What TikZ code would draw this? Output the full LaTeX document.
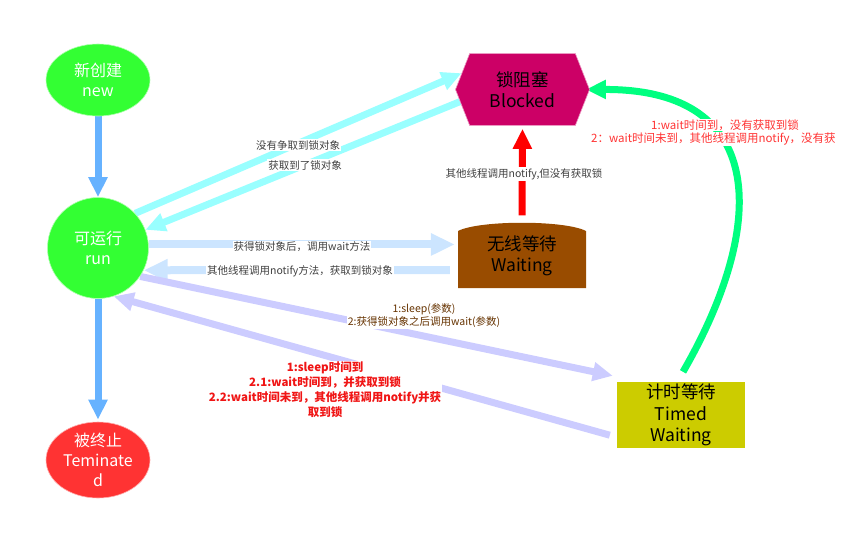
\documentclass[tikz,border=0pt]{standalone}
\usepackage{fontspec}
\setmainfont{Noto Sans CJK SC}
\usetikzlibrary{arrows.meta,shapes.geometric,shapes.symbols,calc}

\definecolor{liveGreen}{HTML}{33FF33}
\definecolor{deadRed}{HTML}{FF3333}
\definecolor{blockPink}{HTML}{CC0066}
\definecolor{waitBrown}{HTML}{994C00}
\definecolor{timedOlive}{HTML}{CCCC00}
\definecolor{flowBlue}{HTML}{66B2FF}
\definecolor{lockCyan}{HTML}{99FFFF}
\definecolor{waitBlue}{HTML}{CCE5FF}
\definecolor{timedLav}{HTML}{CCCCFF}
\definecolor{notifyRed}{HTML}{FF0000}
\definecolor{wakeGreen}{HTML}{00FF80}
\definecolor{noteGray}{HTML}{404040}
\definecolor{noteBrown}{HTML}{663300}
\definecolor{noteRed}{HTML}{FF3333}
\definecolor{boldRed}{HTML}{F01515}

\pgfdeclarelayer{background}
\pgfsetlayers{background,main}

\tikzset{
  stateround/.style={ellipse, inner sep=0pt, align=center, text=white,
    draw=white!60!#1, line width=0.6pt, fill=#1,
    font=\fontsize{16}{20}\selectfont},
  stateblock/.style={inner sep=0pt, align=center, text=black,
    font=\fontsize{17.5}{21.5}\selectfont},
  fatarrow/.style={line width=7pt, draw=#1,
    -{Triangle[width=18pt,length=20pt,fill=#1]}},
  widearrow/.style={line width=8pt, draw=#1,
    -{Triangle[width=21pt,length=24pt,fill=#1]}},
  grayNote/.style={font=\fontsize{10.5}{12}\selectfont, text=noteGray,
    fill=white, inner sep=1pt},
  brownNote/.style={font=\fontsize{10.5}{13.5}\selectfont, text=noteBrown,
    fill=white, inner sep=1pt, align=center},
  redNote/.style={font=\fontsize{11.5}{14}\selectfont, text=noteRed,
    fill=white, inner sep=1pt},
  boldNote/.style={font=\fontsize{11.5}{15}\selectfont\bfseries, text=boldRed,
    fill=white, inner sep=1pt, align=center},
}

\begin{document}
\begin{tikzpicture}[x=1pt,y=-1pt]
\useasboundingbox (0,0) rectangle (849,536);

% ---- states ----
\node[stateround=liveGreen, minimum width=104pt, minimum height=72pt] (new) at (98,80) {新创建\\new};
\node[stateround=liveGreen, minimum width=101pt, minimum height=101pt] (run) at (98,248) {可运行\\run};
\node[stateround=deadRed, minimum width=104pt, minimum height=76pt] (term) at (98,460) {被终止\\Teminate\\d};

\node[signal, signal to=west and east, signal pointer angle=137,
      fill=blockPink, draw=white!60!blockPink, line width=0.6pt,
      minimum width=134pt, minimum height=72pt, stateblock] (blocked) at (522.5,89.5) {锁阻塞\\Blocked};

\fill[waitBrown] (458,231) -- (458,288) -- (586,288) -- (586,231)
  .. controls (565,220) and (479,220) .. (458,231) -- cycle;
\node[stateblock, minimum width=128pt, minimum height=65pt] (waiting) at (522,256) {无线等待\\Waiting};

\node[stateblock, rectangle, fill=timedOlive, minimum width=128pt, minimum height=66pt] (timed) at (681,415) {计时等待\\Timed\\Waiting};

% ---- transitions ----
\begin{pgfonlayer}{background}
  \draw[fatarrow=flowBlue] (new.south) -- (run.north);
  \draw[fatarrow=flowBlue] (run.south) -- ($(term.north)+(0,-2)$);

  \draw[fatarrow=lockCyan] (run.43) -- (blocked.165);
  \draw[fatarrow=lockCyan] (blocked.191) -- (run.21);

  \draw[widearrow=waitBlue, shorten >=3pt] (run.4) -- (run.4 -| waiting.west);
  \coordinate (wback) at ($(waiting.west)+(-8,14)$);
  \draw[widearrow=waitBlue] (wback) -- (run.-26);

  \draw[fatarrow=timedLav] (run.-34) -- ($(timed.north west)+(-4,-6)$);
  \draw[fatarrow=timedLav] ($(timed.south west)+(-7,-13)$) -- (run.-72);

  \draw[fatarrow=notifyRed, shorten <=8pt, shorten >=3pt] (waiting.north) -- (blocked.south);

  \coordinate (wakeStart) at ($(timed.north)+(2,-10)$);
  \draw[fatarrow=wakeGreen, shorten >=-4pt] (wakeStart)
    .. controls (765,230) and (772,89) .. (blocked.east);
\end{pgfonlayer}

% ---- labels ----
\node[grayNote] (l1) at (298,145) {没有争取到锁对象};
\node[grayNote] (l2) at (305,165) {获取到了锁对象};
\node[grayNote] (l3) at (524,174) {其他线程调用notify,但没有获取锁};
\node[grayNote] (l4) at (302,247) {获得锁对象后，调用wait方法};
\node[grayNote] (l5) at (300,271) {其他线程调用notify方法，获取到锁对象};
\node[brownNote] (l6) at (424,315.5) {1:sleep(参数)\\2:获得锁对象之后调用wait(参数)};
\node[boldNote] (l7) at (325,390) {1:sleep时间到\\2.1:wait时间到，并获取到锁\\2.2:wait时间未到，其他线程调用notify并获\\取到锁};

\node[redNote] (l8) at (725,125) {1:wait时间到，没有获取到锁};
\node[redNote, anchor=west] (l9) at (590,139) {2：wait时间未到，其他线程调用notify，没有获};
\end{tikzpicture}
\end{document}
